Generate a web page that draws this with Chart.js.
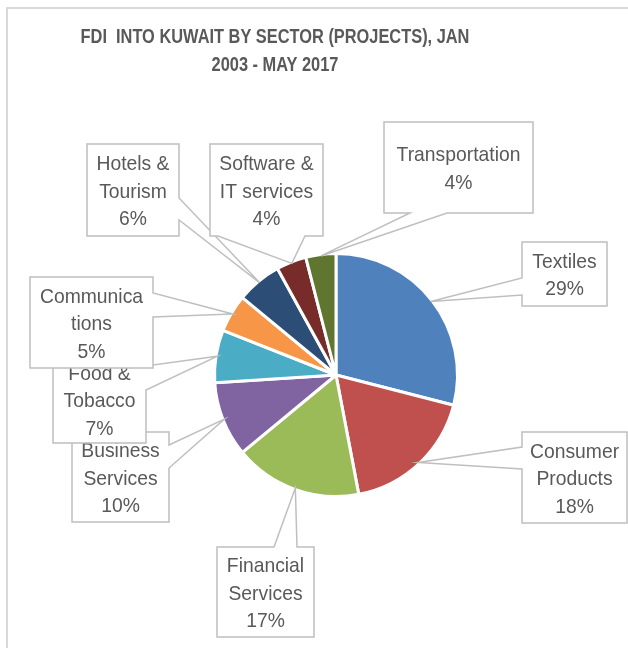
<!DOCTYPE html>
<html>
<head>
<meta charset="utf-8">
<title>FDI into Kuwait by sector</title>
<script src="https://cdn.jsdelivr.net/npm/chart.js@4.4.1/dist/chart.umd.min.js"></script>
<style>
  html, body { margin: 0; padding: 0; background: #fff; }
  #wrap { position: relative; width: 628px; height: 648px; }
</style>
</head>
<body>
<div id="wrap"><canvas id="sectorChart"></canvas></div>
<script>
const titleLines = ["FDI  INTO KUWAIT BY SECTOR (PROJECTS), JAN", "2003 - MAY 2017"]
const sectors = [
  "Textiles", "Consumer Products", "Financial Services", "Business Services",
  "Food & Tobacco", "Communications", "Hotels & Tourism", "Software & IT services", "Transportation"
]
const shares = [29, 18, 17, 10, 7, 5, 6, 4, 4]
const sliceColors = ["#4f81bd", "#c0504d", "#9bbb59", "#8064a2", "#4bacc6", "#f79646", "#2c4d75", "#772c2a", "#5f7530"]

const FONT = "'Liberation Sans Narrow', 'Arial Narrow', 'Liberation Sans', sans-serif"
const TEXT_COLOR = "#595959"
const LINE_COLOR = "#bfbfbf"

// callout boxes, one per slice (same order as sectors); the pointer leaves
// the box on `side` between `from` and `to` and ends on the slice rim
const callouts = [
  { x: 522, y: 242, w: 85, h: 64, side: "left", from: 278, to: 295, lines: ["Textiles"] },
  { x: 522, y: 432, w: 105, h: 91, side: "left", from: 447, to: 469, lines: ["Consumer", "Products"] },
  { x: 217, y: 547, w: 97, h: 90, side: "top", from: 274, to: 297, lines: ["Financial", "Services"] },
  { x: 72, y: 432, w: 97, h: 90, side: "right", from: 445, to: 468, lines: ["Business", "Services"] },
  { x: 53, y: 356, w: 93, h: 87, side: "right", from: 366, to: 390, lines: ["Food &", "Tobacco"] },
  { x: 30, y: 277, w: 123, h: 91, side: "right", from: 293, to: 317, lines: ["Communica", "tions"] },
  { x: 87, y: 144, w: 92, h: 92, side: "right", from: 198, to: 220, lines: ["Hotels &", "Tourism"] },
  { x: 210, y: 144, w: 113, h: 92, side: "bottom", from: 218, to: 305, lines: ["Software &", "IT services"] },
  { x: 384, y: 122, w: 149, h: 91, side: "bottom", from: 410, to: 447, lines: ["Transportation"] }
]

function calloutPath(ctx, c, tip) {
  const { x, y, w, h } = c
  ctx.beginPath()
  ctx.moveTo(x, y)
  if (c.side === "top") {
    ctx.lineTo(c.from, y); ctx.lineTo(tip.x, tip.y); ctx.lineTo(c.to, y)
  }
  ctx.lineTo(x + w, y)
  if (c.side === "right") {
    ctx.lineTo(x + w, c.from); ctx.lineTo(tip.x, tip.y); ctx.lineTo(x + w, c.to)
  }
  ctx.lineTo(x + w, y + h)
  if (c.side === "bottom") {
    ctx.lineTo(c.to, y + h); ctx.lineTo(tip.x, tip.y); ctx.lineTo(c.from, y + h)
  }
  ctx.lineTo(x, y + h)
  if (c.side === "left") {
    ctx.lineTo(x, c.to); ctx.lineTo(tip.x, tip.y); ctx.lineTo(x, c.from)
  }
  ctx.closePath()
}

// no condensed face is installed, so squeeze the regular one horizontally
function narrowText(ctx, text, x, y, sx) {
  ctx.save()
  ctx.translate(x, y)
  ctx.scale(sx, 1)
  ctx.fillText(text, 0, 0)
  ctx.restore()
}

const calloutPlugin = {
  id: "callouts",
  beforeDraw(chart) {
    const ctx = chart.ctx
    ctx.save()
    ctx.strokeStyle = "#d9d9d9"
    ctx.lineWidth = 2
    ctx.strokeRect(7, 8, 700, 700)
    ctx.restore()
  },
  afterDatasetsDraw(chart) {
    const ctx = chart.ctx
    const meta = chart.getDatasetMeta(0)
    const values = chart.data.datasets[0].data
    const total = values.reduce((a, b) => a + b, 0)
    const size = 21
    const lh = 27.5
    const cap = size * 0.716

    ctx.save()
    meta.data.forEach((arc, i) => {
      const c = callouts[i]
      const p = arc.getProps(["x", "y", "startAngle", "endAngle", "outerRadius"], true)
      const mid = (p.startAngle + p.endAngle) / 2
      const r = p.outerRadius - 1.5
      const tip = { x: p.x + Math.cos(mid) * r, y: p.y + Math.sin(mid) * r }

      calloutPath(ctx, c, tip)
      ctx.fillStyle = "#fff"
      ctx.fill()
      ctx.strokeStyle = LINE_COLOR
      ctx.lineWidth = 1.5
      ctx.lineJoin = "miter"
      ctx.stroke()

      const text = c.lines.concat(Math.round(values[i] / total * 100) + "%")
      ctx.fillStyle = TEXT_COLOR
      ctx.font = size + "px " + FONT
      ctx.textAlign = "center"
      ctx.textBaseline = "alphabetic"
      const cx = c.x + c.w / 2
      const first = c.y + c.h / 2 - (text.length - 1) * lh / 2 + cap / 2
      text.forEach((t, k) => narrowText(ctx, t, cx, first + k * lh, 0.92))
    })

    // chart title
    ctx.fillStyle = TEXT_COLOR
    ctx.font = "bold 21px " + FONT
    ctx.textAlign = "center"
    titleLines.forEach((t, k) => narrowText(ctx, t, 275, 43 + k * 28, 0.78))
    ctx.restore()
  }
}

new Chart(document.getElementById("sectorChart"), {
  type: "pie",
  data: {
    labels: sectors,
    datasets: [{
      data: shares,
      backgroundColor: sliceColors,
      borderColor: "#ffffff",
      borderWidth: 3,
      radius: 121.5
    }]
  },
  options: {
    responsive: true,
    maintainAspectRatio: false,
    animation: false,
    layout: { padding: { left: 214.5, right: 170.5, top: 253.5, bottom: 151.5 } },
    plugins: {
      legend: { display: false },
      tooltip: { enabled: false },
      title: { display: false }
    }
  },
  plugins: [calloutPlugin]
})
</script>
</body>
</html>
